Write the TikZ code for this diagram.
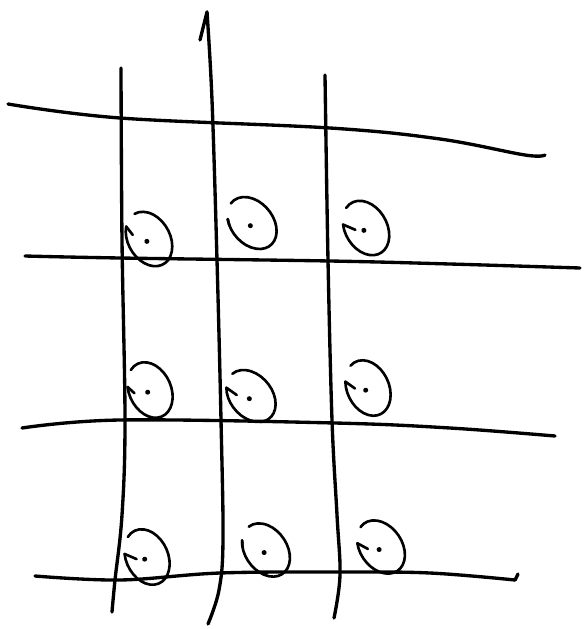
\documentclass[tikz,border=0pt]{standalone}
\usepackage{tikz}
\usetikzlibrary{calc}

\tikzset{
  pen/.style={black, line width=1.9pt, line cap=round, line join=round},
  ringline/.style={black, line width=1.5pt, line cap=round}
}

% ring with a gap and a dot: centre, tilt, gap angle, hook factor
\newcommand{\ringat}[4]{%
  \begin{scope}[shift={#1}, rotate=#2]
    \draw[ringline] (#3+20:21 and 29) arc[start angle=#3+20, end angle=#3+340, x radius=21, y radius=29];
    \draw[ringline] (#3+20:21 and 29) -- (#3+35:#4*21 and #4*29);
    \fill (-3,-1) circle (2.5);
  \end{scope}}

\begin{document}
\begin{tikzpicture}[x=0.02cm, y=0.02cm]
\useasboundingbox (0,0) rectangle (584,-629);

  % Define the points of the vertical strokes
  \coordinate (Va1) at (121,-68);
  \coordinate (Va2) at (122,-240);
  \coordinate (Va3) at (125,-420);
  \coordinate (Va4) at (122,-515);
  \coordinate (Va5) at (115,-580);
  \coordinate (Va6) at (112,-612);

  \coordinate (Vb0) at (200,-40);
  \coordinate (Vb1) at (207,-12);
  \coordinate (Vb2) at (212,-100);
  \coordinate (Vb3) at (217,-260);
  \coordinate (Vb4) at (221,-420);
  \coordinate (Vb5) at (223,-540);
  \coordinate (Vb6) at (219,-590);
  \coordinate (Vb7) at (208,-624);

  \coordinate (Vc1) at (325,-75);
  \coordinate (Vc2) at (328,-260);
  \coordinate (Vc3) at (332,-420);
  \coordinate (Vc4) at (337,-515);
  \coordinate (Vc5) at (340,-575);
  \coordinate (Vc6) at (334,-618);

  % Define the points of the horizontal strokes
  \coordinate (Ha1) at (8,-104);
  \coordinate (Ha2) at (120,-118);
  \coordinate (Ha3) at (330,-128);
  \coordinate (Ha4) at (440,-139);
  \coordinate (Ha5) at (525,-155);
  \coordinate (Ha6) at (545,-155);

  \coordinate (Hb1) at (25,-256);
  \coordinate (Hb2) at (120,-258);
  \coordinate (Hb3) at (330,-261);
  \coordinate (Hb4) at (450,-264);
  \coordinate (Hb5) at (580,-268);

  \coordinate (Hc1) at (22,-428);
  \coordinate (Hc2) at (120,-420);
  \coordinate (Hc3) at (335,-423);
  \coordinate (Hc4) at (450,-428);
  \coordinate (Hc5) at (555,-436);

  \coordinate (Hd1) at (35,-576);
  \coordinate (Hd2) at (120,-580);
  \coordinate (Hd3) at (220,-573);
  \coordinate (Hd4) at (340,-572);
  \coordinate (Hd5) at (430,-573);
  \coordinate (Hd6) at (515,-580);
  \coordinate (Hd7) at (518,-574);

  % Draw the strokes
  \draw[pen] plot[smooth, tension=0.6] coordinates {(Va1) (Va2) (Va3) (Va4) (Va5) (Va6)};
  \draw[pen] (Vb0) -- (Vb1);
  \draw[pen] plot[smooth, tension=0.6] coordinates {(Vb1) (Vb2) (Vb3) (Vb4) (Vb5) (Vb6) (Vb7)};
  \draw[pen] plot[smooth, tension=0.6] coordinates {(Vc1) (Vc2) (Vc3) (Vc4) (Vc5) (Vc6)};

  \draw[pen] plot[smooth, tension=0.6] coordinates {(Ha1) (Ha2) (Ha3) (Ha4) (Ha5) (Ha6)};
  \draw[pen] plot[smooth, tension=0.6] coordinates {(Hb1) (Hb2) (Hb3) (Hb4) (Hb5)};
  \draw[pen] plot[smooth, tension=0.6] coordinates {(Hc1) (Hc2) (Hc3) (Hc4) (Hc5)};
  \draw[pen] plot[smooth, tension=0.6] coordinates {(Hd1) (Hd2) (Hd3) (Hd4) (Hd5) (Hd6)};
  \draw[pen] (Hd6) -- (Hd7);

  % Draw the rings
  \ringat{(149,-239)}{30}{110}{0.7}
  \ringat{(252,-223)}{40}{120}{1}
  \ringat{(366,-228)}{30}{130}{0.5}

  \ringat{(150,-390)}{25}{135}{0.75}
  \ringat{(251,-396)}{40}{110}{0.6}
  \ringat{(368,-388)}{25}{128}{0.6}

  \ringat{(147,-557)}{25}{135}{0.5}
  \ringat{(266,-550)}{35}{112}{1}
  \ringat{(381,-547)}{35}{125}{0.6}
\end{tikzpicture}
\end{document}
